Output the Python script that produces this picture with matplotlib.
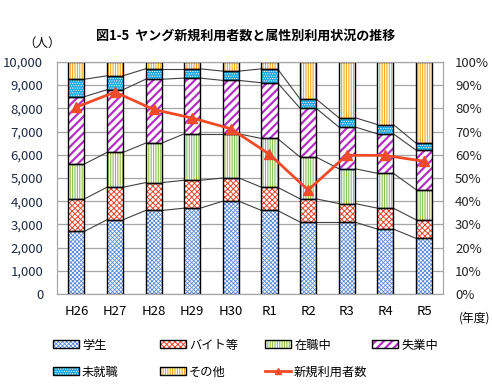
import matplotlib
matplotlib.use("Agg")
import matplotlib.pyplot as plt
import numpy as np
from matplotlib.patches import Patch
from matplotlib.lines import Line2D

plt.rcParams['font.family'] = ['Noto Sans CJK JP', 'DejaVu Sans']

years = ['H26', 'H27', 'H28', 'H29', 'H30', 'R1', 'R2', 'R3', 'R4', 'R5']
# shares (%) of each attribute
student = [27, 32, 36, 37, 40, 36, 31, 31, 28, 24]
parttime = [14, 14, 12, 12, 10, 10, 10, 8, 9, 8]
employed = [15, 15, 17, 20, 19, 21, 18, 15, 15, 13]
unemployed = [29, 27, 27.5, 24, 23, 24, 21, 18, 17, 17]
noemploy = [7.5, 6, 4.5, 4, 4, 6, 4, 4, 4, 3]
other = [7.5, 6, 3, 3, 4, 3, 16, 24, 27, 35]
new_users = [8050, 8700, 7950, 7580, 7120, 6020, 4480, 5980, 5970, 5720]

# name, values, face, hatch colour, hatch, hatch lw
series = [
    ('学生', student, 'white', '#5B8BDA', 'xxxxxxxx', 0.6),
    ('バイト等', parttime, 'white', '#E8452A', 'xxxxxx', 0.7),
    ('在職中', employed, 'white', '#8DBE50', '|||||||', 0.8),
    ('失業中', unemployed, 'white', '#B52FC4', '////', 1.6),
    ('未就職', noemploy, '#1BA8E0', 'white', '.......', 0.5),
    ('その他', other, 'white', '#F2A91C', '|||||||', 0.8),
]


def set_hlw(objs, hlw):
    for o in objs:
        if hasattr(o, 'set_hatch_linewidth'):
            o.set_hatch_linewidth(hlw)


fig = plt.figure(figsize=(4.92, 3.89), dpi=100)
ax = fig.add_axes([0.116, 0.244, 0.785, 0.597])
ax2 = ax.twinx()

x = np.arange(len(years))
w = 0.415
bottom = np.zeros(len(years))
tops = []
for name, vals, fc, hc, hatch, hlw in series:
    vals = np.array(vals, dtype=float)
    with plt.rc_context({'hatch.linewidth': hlw}):
        bars = ax.bar(x, vals, w, bottom=bottom, color=fc, edgecolor=hc,
                      hatch=hatch, linewidth=0, zorder=2)
    set_hlw(bars, hlw)
    ax.bar(x, vals, w, bottom=bottom, fill=False, edgecolor='black',
           linewidth=1.0, zorder=3)
    bottom = bottom + vals
    tops.append(bottom.copy())

# series lines
for t in tops[:-1]:
    for i in range(len(years) - 1):
        ax.plot([x[i] + w / 2, x[i + 1] - w / 2], [t[i], t[i + 1]],
                color='#404040', lw=0.8, zorder=1)

ax.set_ylim(0, 100)
ax.set_xlim(-0.5, len(years) - 0.5)
ax.set_yticks(np.arange(0, 101, 10))
ax.set_yticklabels([f'{v}%' for v in range(0, 101, 10)])
ax.yaxis.tick_right()
ax.grid(axis='y', color='#A6A6A6', lw=0.9, zorder=0)
ax.set_axisbelow(True)
ax.set_xticks(x)
ax.set_xticklabels(years)

ax2.plot(x, new_users, color='#F04A28', lw=2, marker='^', ms=7, zorder=5)
ax2.set_ylim(0, 10000)
ax2.set_yticks(np.arange(0, 10001, 1000))
ax2.set_yticklabels([f'{v:,}' for v in range(0, 10001, 1000)])
ax2.yaxis.tick_left()

for a in (ax, ax2):
    for s in a.spines.values():
        s.set_color('#A6A6A6')
    a.tick_params(length=0, labelsize=9.5)
ax.tick_params(axis='y', pad=8.5, labelcolor='#262626')
ax2.tick_params(axis='y', pad=10, labelcolor='#1F2A44')
ax.tick_params(axis='x', pad=8)

fig.text(0.50, 0.908, '図1-5  ヤング新規利用者数と属性別利用状況の推移',
         ha='center', va='center', fontsize=9.4, fontweight='bold')
fig.text(0.085, 0.888, '（人）', ha='center', va='center', fontsize=9)
fig.text(0.965, 0.183, '(年度)', ha='center', va='center', fontsize=8.5)

# legend: one entry per small legend, placed on a 4-column grid
col_x = [53 / 492, 160 / 492, 265 / 492, 372 / 492]
row_y = [1 - 345 / 389, 1 - 372 / 389]
placement = {
    '学生': (0, 0), 'バイト等': (1, 0), '在職中': (2, 0), '失業中': (3, 0),
    '未就職': (0, 1), 'その他': (1, 1), '新規利用者数': (2, 1),
}
legkw = dict(loc='center left', frameon=False, fontsize=8.8,
             handlelength=2.13, handleheight=0.57, handletextpad=0.25,
             borderpad=0, borderaxespad=0)
for name, vals, fc, hc, hatch, hlw in series:
    c, r = placement[name]
    with plt.rc_context({'hatch.linewidth': hlw}):
        hp = Patch(facecolor=fc, edgecolor=hc, hatch=hatch, linewidth=0)
        set_hlw([hp], hlw)
        h = (hp, Patch(fill=False, edgecolor='black', linewidth=1.0))
        fig.legend([h], [name], bbox_to_anchor=(col_x[c], row_y[r]), **legkw)
c, r = placement['新規利用者数']
fig.legend([Line2D([], [], color='#F04A28', lw=2, marker='^', ms=5)],
           ['新規利用者数'], bbox_to_anchor=(col_x[c], row_y[r]), **legkw)

fig.savefig('out.png', dpi=100)
